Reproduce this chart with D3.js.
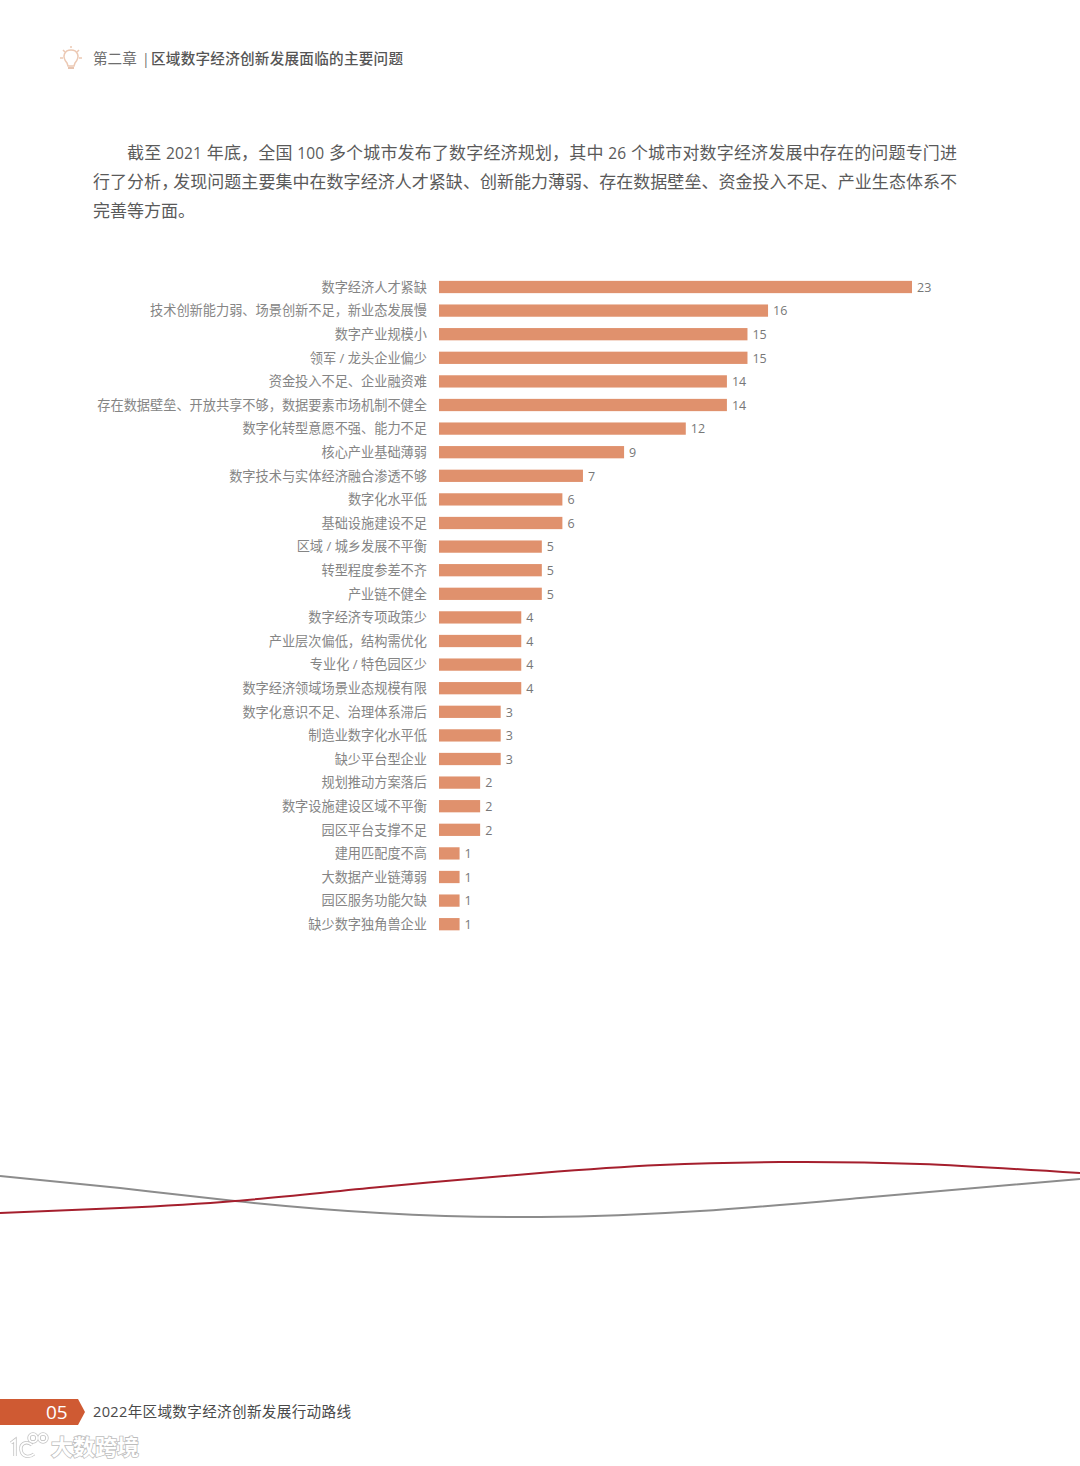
<!DOCTYPE html>
<html>
<head>
<meta charset="utf-8">
<script src="https://cdn.jsdelivr.net/npm/d3@7"></script>
<style>
  html, body { margin: 0; padding: 0; background: #fff; }
  svg { display: block; }
  text { font-family: "Open Sans", "Noto Sans CJK SC", sans-serif; }
</style>
</head>
<body>
<svg id="page" width="1080" height="1466"></svg>
<script>
const categories = [
  '数字经济人才紧缺', '技术创新能力弱、场景创新不足，新业态发展慢', '数字产业规模小', '领军 / 龙头企业偏少',
  '资金投入不足、企业融资难', '存在数据壁垒、开放共享不够，数据要素市场机制不健全', '数字化转型意愿不强、能力不足',
  '核心产业基础薄弱', '数字技术与实体经济融合渗透不够', '数字化水平低', '基础设施建设不足', '区域 / 城乡发展不平衡',
  '转型程度参差不齐', '产业链不健全', '数字经济专项政策少', '产业层次偏低，结构需优化', '专业化 / 特色园区少',
  '数字经济领域场景业态规模有限', '数字化意识不足、治理体系滞后', '制造业数字化水平低', '缺少平台型企业',
  '规划推动方案落后', '数字设施建设区域不平衡', '园区平台支撑不足', '建用匹配度不高', '大数据产业链薄弱',
  '园区服务功能欠缺', '缺少数字独角兽企业'
];
const values = [23, 16, 15, 15, 14, 14, 12, 9, 7, 6, 6, 5, 5, 5, 4, 4, 4, 4, 3, 3, 3, 2, 2, 2, 1, 1, 1, 1];

const paragraph = [
  '截至 2021 年底，全国 100 多个城市发布了数字经济规划，其中 26 个城市对数字经济发展中存在的问题专门进',
  '行了分析，发现问题主要集中在数字经济人才紧缺、创新能力薄弱、存在数据壁垒、资金投入不足、产业生态体系不',
  '完善等方面。'
];

// the two decorative waves as [x, y]
const greyWave = [[0, 1176], [120, 1188], [235, 1201], [380, 1213], [540, 1217], [700, 1211], [860, 1198], [1080, 1179]];
const redWave = [[0, 1213], [120, 1208], [235, 1201], [380, 1187], [540, 1173], [660, 1165], [780, 1162], [920, 1164], [1080, 1173]];

const svg = d3.select('#page');

// header
const bulb = svg.append('g').attr('fill', 'none').attr('stroke', '#ecc9b4').attr('stroke-width', 1.5);
bulb.append('path').attr('d', 'M67 63 C61 56 65 50 71 50 C77 50 81 56 75 63 L74 66 L68 66 Z');
bulb.append('path').attr('d', 'M60 58 H63 M79 58 H82 M63 50 L65 52 M79 50 L77 52 M71 46 V48');
bulb.append('path').attr('d', 'M68 68 H74').attr('stroke', '#dfb196');

svg.append('text').attr('x', 93).attr('y', 64).attr('font-size', 14.6).attr('fill', '#6e6e6e').text('第二章');
svg.append('text').attr('x', 142).attr('y', 64).attr('font-size', 14).attr('fill', '#6e6e6e').text('|');
svg.append('text').attr('x', 151).attr('y', 64).attr('font-size', 14.6).attr('fill', '#555').attr('font-weight', 500)
  .attr('textLength', 252).text('区域数字经济创新发展面临的主要问题');

// intro text: digits sit a little smaller than the Chinese, and the second line closes up after its comma
const paraX = [127, 93, 93];
const para = svg.append('g').attr('font-size', 17).attr('fill', '#5a5a5a');
para.selectAll('text').data(paragraph).join('text')
  .attr('x', (d, i) => paraX[i])
  .attr('y', (d, i) => 158.5 + i * 29)
  .each(function(d, i) {
    const t = d3.select(this);
    if (i === 0) {
      t.attr('textLength', 830);
      d.split(/(\d+)/).forEach(s => {
        const span = t.append('tspan').text(s);
        if (/^\d+$/.test(s)) span.attr('font-size', 15.5);
      });
    } else if (i === 1) {
      const cut = d.indexOf('，') + 1;
      t.attr('letter-spacing', 0.04);
      t.append('tspan').text(d.slice(0, cut));
      t.append('tspan').attr('dx', -5).text(d.slice(cut));
    } else {
      t.text(d);
    }
  });

// bar chart
const x = d3.scaleLinear().domain([0, 23]).range([439, 912]);
const y = d3.scaleBand().domain(categories).range([275.2, 936]).paddingInner(0.48).paddingOuter(0.24);

const yAxis = svg.append('g')
  .attr('transform', 'translate(439,0.5)')
  .call(d3.axisLeft(y).tickSize(0).tickPadding(12));
yAxis.select('.domain').remove();
yAxis.selectAll('text')
  .attr('font-size', 13.2)
  .attr('fill', '#858585')
  .style('font-family', '"Open Sans", "Noto Sans CJK SC", sans-serif');

svg.append('g').selectAll('rect').data(values).join('rect')
  .attr('x', x(0))
  .attr('y', (d, i) => y(categories[i]))
  .attr('width', d => x(d) - x(0))
  .attr('height', y.bandwidth())
  .attr('fill', '#e0916d');

svg.append('g').selectAll('text').data(values).join('text')
  .attr('x', d => x(d) + 5)
  .attr('y', (d, i) => y(categories[i]) + y.bandwidth() / 2 + 0.5)
  .attr('dy', '0.35em')
  .attr('font-size', 12.5)
  .attr('fill', '#777')
  .text(d => d);

// waves
const waveLine = d3.line().curve(d3.curveNatural);
svg.append('path').attr('d', waveLine(greyWave)).attr('fill', 'none').attr('stroke', '#8c8c8c').attr('stroke-width', 2);
svg.append('path').attr('d', waveLine(redWave)).attr('fill', 'none').attr('stroke', '#a51f2d').attr('stroke-width', 2);

// footer
svg.append('path').attr('d', 'M0 1399 H78 L85 1412 L78 1425 H0 Z').attr('fill', '#cf5a33');
svg.append('text').attr('x', 46).attr('y', 1419).attr('font-size', 19).attr('fill', '#fff').text('05');
svg.append('text').attr('x', 93).attr('y', 1417).attr('font-size', 14.6).attr('fill', '#4a4a4a')
  .attr('textLength', 258).text('2022年区域数字经济创新发展行动路线');

// watermark
svg.append('text').attr('x', 51).attr('y', 1455).attr('font-size', 22).attr('font-weight', 700)
  .attr('fill', '#fff').attr('stroke', '#bdbdbd').attr('stroke-width', 1.6).attr('paint-order', 'stroke').text('大数跨境');
const logo = 'M11 1443 L15 1440 V1456 M32 1445 C26 1440 20 1444 21 1450 C22 1457 29 1458 34 1454 M33 1438 m-4 0 a4 4 0 1 0 8 0 a4 4 0 1 0 -8 0 M43 1438 m-4 0 a4 4 0 1 0 8 0 a4 4 0 1 0 -8 0';
svg.append('path').attr('d', logo).attr('fill', 'none').attr('stroke', '#c4c4c4').attr('stroke-width', 3.4);
svg.append('path').attr('d', logo).attr('fill', 'none').attr('stroke', '#fff').attr('stroke-width', 1.8);
</script>
</body>
</html>
